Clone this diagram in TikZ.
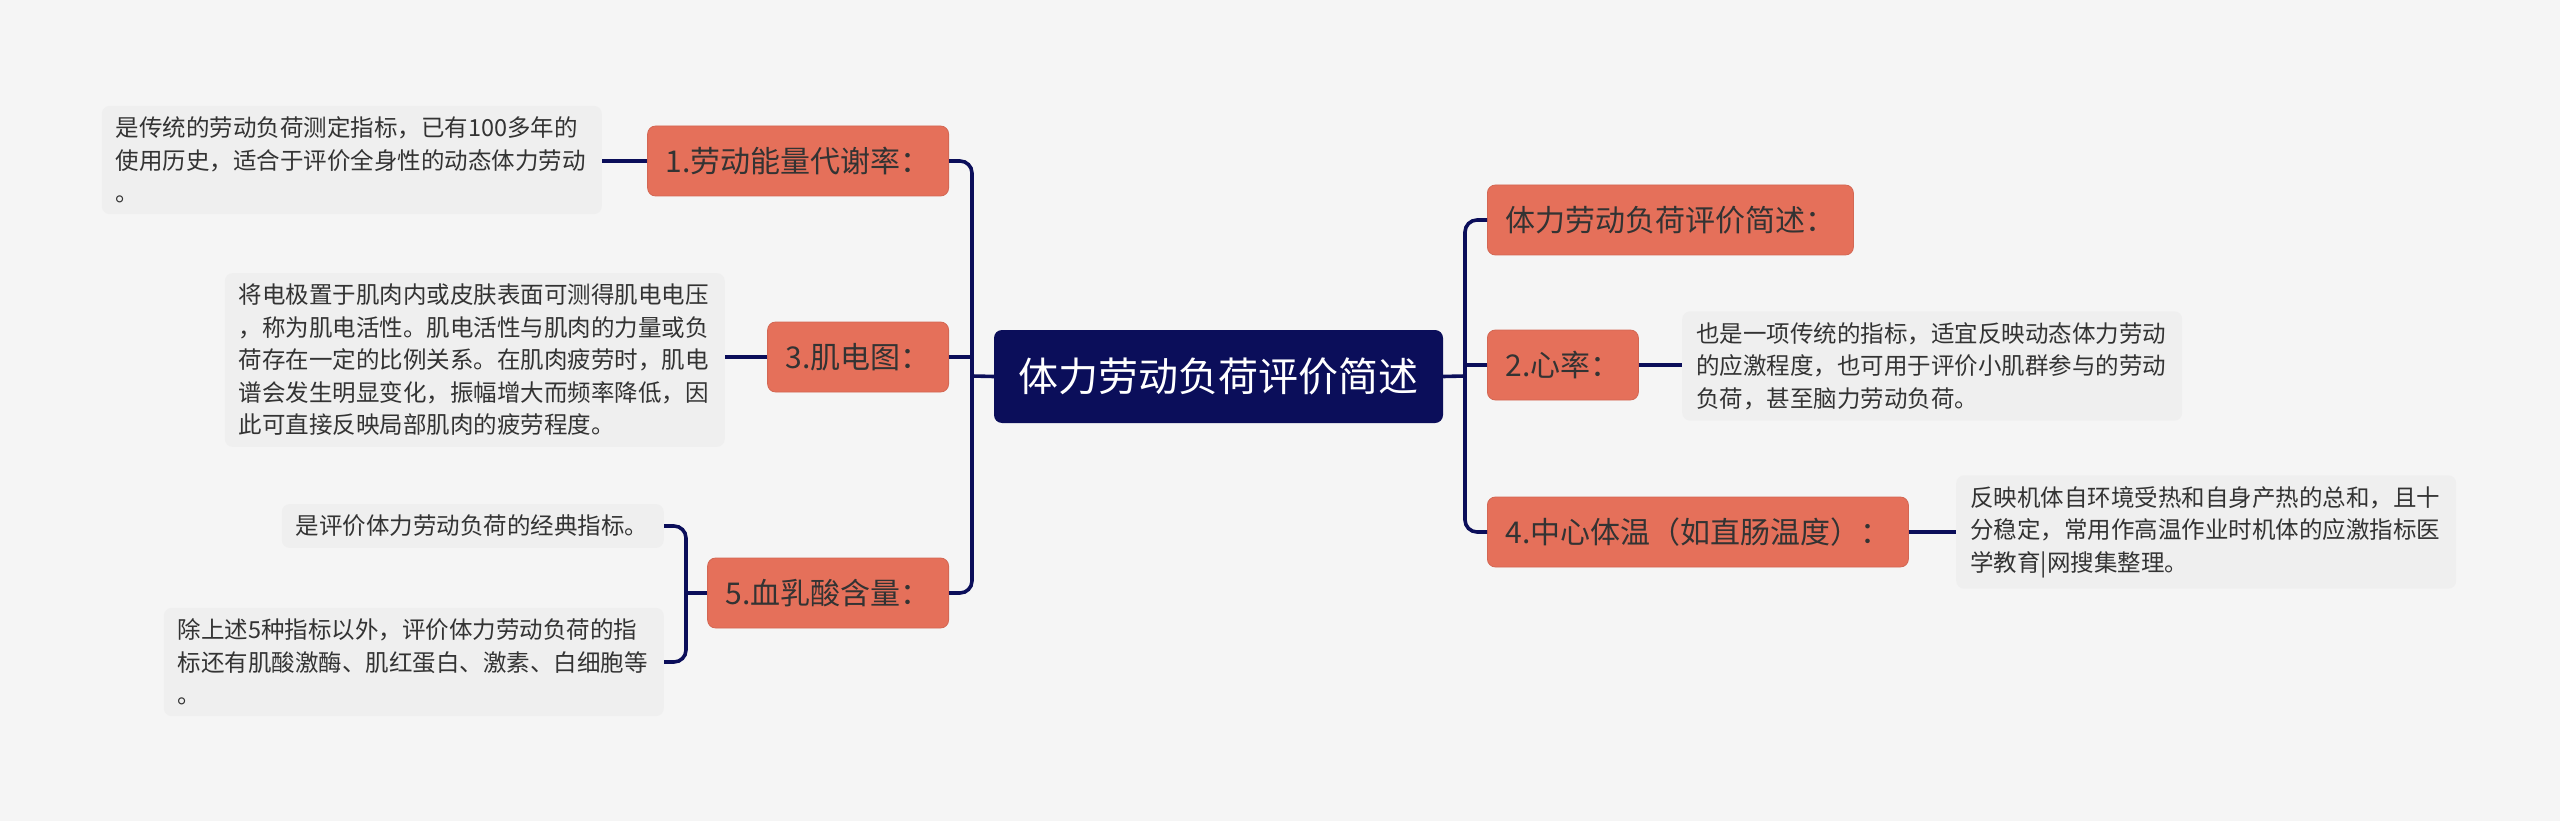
\documentclass[tikz,border=0pt]{standalone}
\usepackage{fontspec}
\setmainfont{Noto Sans CJK SC}
\usepackage{xcolor}
\usepackage{tikz}
\usetikzlibrary{positioning,calc}

\definecolor{rootblue}{HTML}{0B0E5A}
\definecolor{boxred}{HTML}{E5705A}
\definecolor{notegray}{HTML}{EFEFEF}
\definecolor{bggray}{HTML}{F5F5F5}
\definecolor{inkgray}{HTML}{333333}

\begin{document}
\begin{tikzpicture}[
    x=1pt, y=-1pt,
    rootbox/.style={rectangle, fill=rootblue, rounded corners=8pt, minimum width=449pt, minimum height=93pt, text=white, font=\fontsize{40}{48}\selectfont},
    topic/.style={rectangle, fill=boxred, draw=boxred!92!black, line width=0.8pt, rounded corners=8pt, minimum height=70pt, inner xsep=18pt, text=inkgray, font=\fontsize{30}{36}\selectfont},
    note/.style={rectangle, fill=notegray, rounded corners=8pt, text width=472pt, inner xsep=14pt, inner ysep=11pt, align=left, text=inkgray, font=\fontsize{23.5}{32.5}\selectfont},
    link/.style={draw=rootblue, line width=3.6pt, rounded corners=12pt}
]

% page and background
\useasboundingbox[fill=bggray] (0,0) rectangle (2560,821);

% centre
\node[rootbox] (root) at (1218.5,376.5) {体力劳动负荷评价简述};

% right side
\node[topic, anchor=west] (intro) at (1487,220) {体力劳动负荷评价简述：};
\node[topic, anchor=west] (heart) at (1487,365) {2.心率：};
\node[topic, anchor=west] (temp) at (1487,532) {4.中心体温（如直肠温度）：};
\node[note, anchor=west] (heartnote) at (1682,366) {也是一项传统的指标，适宜反映动态体力劳动\\的应激程度，也可用于评价小肌群参与的劳动\\负荷，甚至脑力劳动负荷。};
\node[note, anchor=west] (tempnote) at (1956,532) {反映机体自环境受热和自身产热的总和，且十\\分稳定，常用作高温作业时机体的应激指标医\\学教育|网搜集整理。};

% left side
\node[topic, anchor=east] (energy) at (949,161) {1.劳动能量代谢率：};
\node[topic, anchor=east] (emg) at (949,357) {3.肌电图：};
\node[topic, anchor=east] (lactate) at (949,593) {5.血乳酸含量：};
\node[note, anchor=east] (energynote) at (602,160) {是传统的劳动负荷测定指标，已有100多年的\\使用历史，适合于评价全身性的动态体力劳动\\。};
\node[note, anchor=east] (emgnote) at (725,360) {将电极置于肌肉内或皮肤表面可测得肌电电压\\，称为肌电活性。肌电活性与肌肉的力量或负\\荷存在一定的比例关系。在肌肉疲劳时，肌电\\谱会发生明显变化，振幅增大而频率降低，因\\此可直接反映局部肌肉的疲劳程度。};
\node[note, anchor=east, text width=354pt] (lactatenote1) at (664,526) {是评价体力劳动负荷的经典指标。};
\node[note, anchor=east] (lactatenote2) at (664,662) {除上述5种指标以外，评价体力劳动负荷的指\\标还有肌酸激酶、肌红蛋白、激素、白细胞等\\。};

% junction points
\coordinate (lj) at (972,376);
\coordinate (rj) at (1465,376);
\coordinate (sj) at (686,593);

% connectors
\draw[link] (root.east) -- (rj);
\draw[link] (rj) |- (intro.west);
\draw[link] (rj) |- (temp.west);
\draw[link] (heart.west) -- (heart.west -| rj);
\draw[link] (heart.east) -- (heart.east -| heartnote.west);
\draw[link] (temp.east) -- (temp.east -| tempnote.west);

\draw[link] (root.west) -- (lj);
\draw[link] (lj) |- (energy.east);
\draw[link] (lj) |- (lactate.east);
\draw[link] (emg.east) -- (emg.east -| lj);
\draw[link] (energy.west) -- (energy.west -| energynote.east);
\draw[link] (emg.west) -- (emg.west -| emgnote.east);
\draw[link] (lactate.west) -- (sj);
\draw[link] (sj) |- (lactatenote1.east);
\draw[link] (sj) |- (lactatenote2.east);

\end{tikzpicture}
\end{document}
